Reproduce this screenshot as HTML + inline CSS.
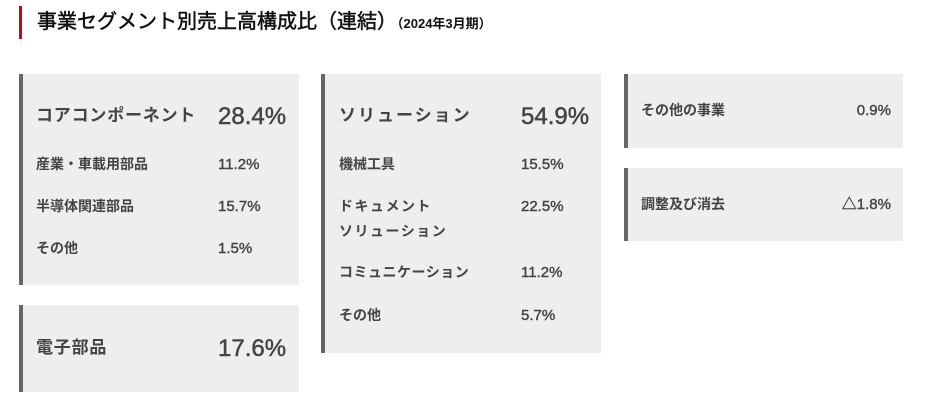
<!DOCTYPE html>
<html><head><meta charset="utf-8"><style>
body{margin:0;width:936px;height:401px;background:#fff;position:relative;overflow:hidden;font-family:"Liberation Sans","Noto Sans CJK JP",sans-serif;color:#444}
.t{position:absolute;white-space:nowrap;font-weight:bold;line-height:1}
.box{position:absolute;background:#eeeeee;border-left:4px solid #666;box-sizing:border-box}
.lg{font-size:17px;letter-spacing:0.8px}
.sm{font-size:14px}
.pb{font-size:24px;font-weight:normal;color:#444;-webkit-text-stroke:0.5px #444}
.ps{font-size:15px;font-weight:normal;-webkit-text-stroke:0.4px #444}
</style></head><body>
<div style="position:absolute;left:19px;top:6px;width:3px;height:33px;background:#d0021b"></div>
<div class="t" style="left:37px;top:12px;font-size:20px;color:#111;font-weight:normal;-webkit-text-stroke:0.5px #111">事業セグメント別売上高構成比（連結）<span style="font-size:13px;font-weight:bold;-webkit-text-stroke:0">（2024年3月期）</span></div>

<div class="box" style="left:19px;top:74px;width:280px;height:211px"></div>
<div class="t lg" style="left:36px;top:107px">コアコンポーネント</div>
<div class="t pb" style="left:218px;top:105px">28.4%</div>
<div class="t sm" style="left:36px;top:157px">産業・車載用部品</div><div class="t ps" style="left:218px;top:157px">11.2%</div>
<div class="t sm" style="left:36px;top:199px">半導体関連部品</div><div class="t ps" style="left:218px;top:199px">15.7%</div>
<div class="t sm" style="left:36px;top:241px">その他</div><div class="t ps" style="left:218px;top:241px">1.5%</div>

<div class="box" style="left:19px;top:305px;width:280px;height:87px"></div>
<div class="t lg" style="left:36px;top:339px">電子部品</div>
<div class="t pb" style="left:218px;top:337px">17.6%</div>

<div class="box" style="left:321px;top:74px;width:280px;height:279px"></div>
<div class="t lg" style="left:339px;top:107px;letter-spacing:2px">ソリューション</div>
<div class="t pb" style="left:521px;top:105px">54.9%</div>
<div class="t sm" style="left:339px;top:157px">機械工具</div><div class="t ps" style="left:521px;top:157px">15.5%</div>
<div class="t sm" style="left:339px;top:199px;letter-spacing:1.5px">ドキュメント</div><div class="t ps" style="left:521px;top:199px">22.5%</div>
<div class="t sm" style="left:339px;top:224px;letter-spacing:1.5px">ソリューション</div>
<div class="t sm" style="left:339px;top:265px;letter-spacing:0.5px">コミュニケーション</div><div class="t ps" style="left:521px;top:265px">11.2%</div>
<div class="t sm" style="left:339px;top:308px">その他</div><div class="t ps" style="left:521px;top:308px">5.7%</div>

<div class="box" style="left:624px;top:74px;width:279px;height:74px"></div>
<div class="t sm" style="left:641px;top:103px">その他の事業</div>
<div class="t ps" style="right:45px;top:103px">0.9%</div>
<div class="box" style="left:624px;top:168px;width:279px;height:73px"></div>
<div class="t sm" style="left:641px;top:197px">調整及び消去</div>
<div class="t ps" style="right:45px;top:197px">△1.8%</div>
</body></html>
